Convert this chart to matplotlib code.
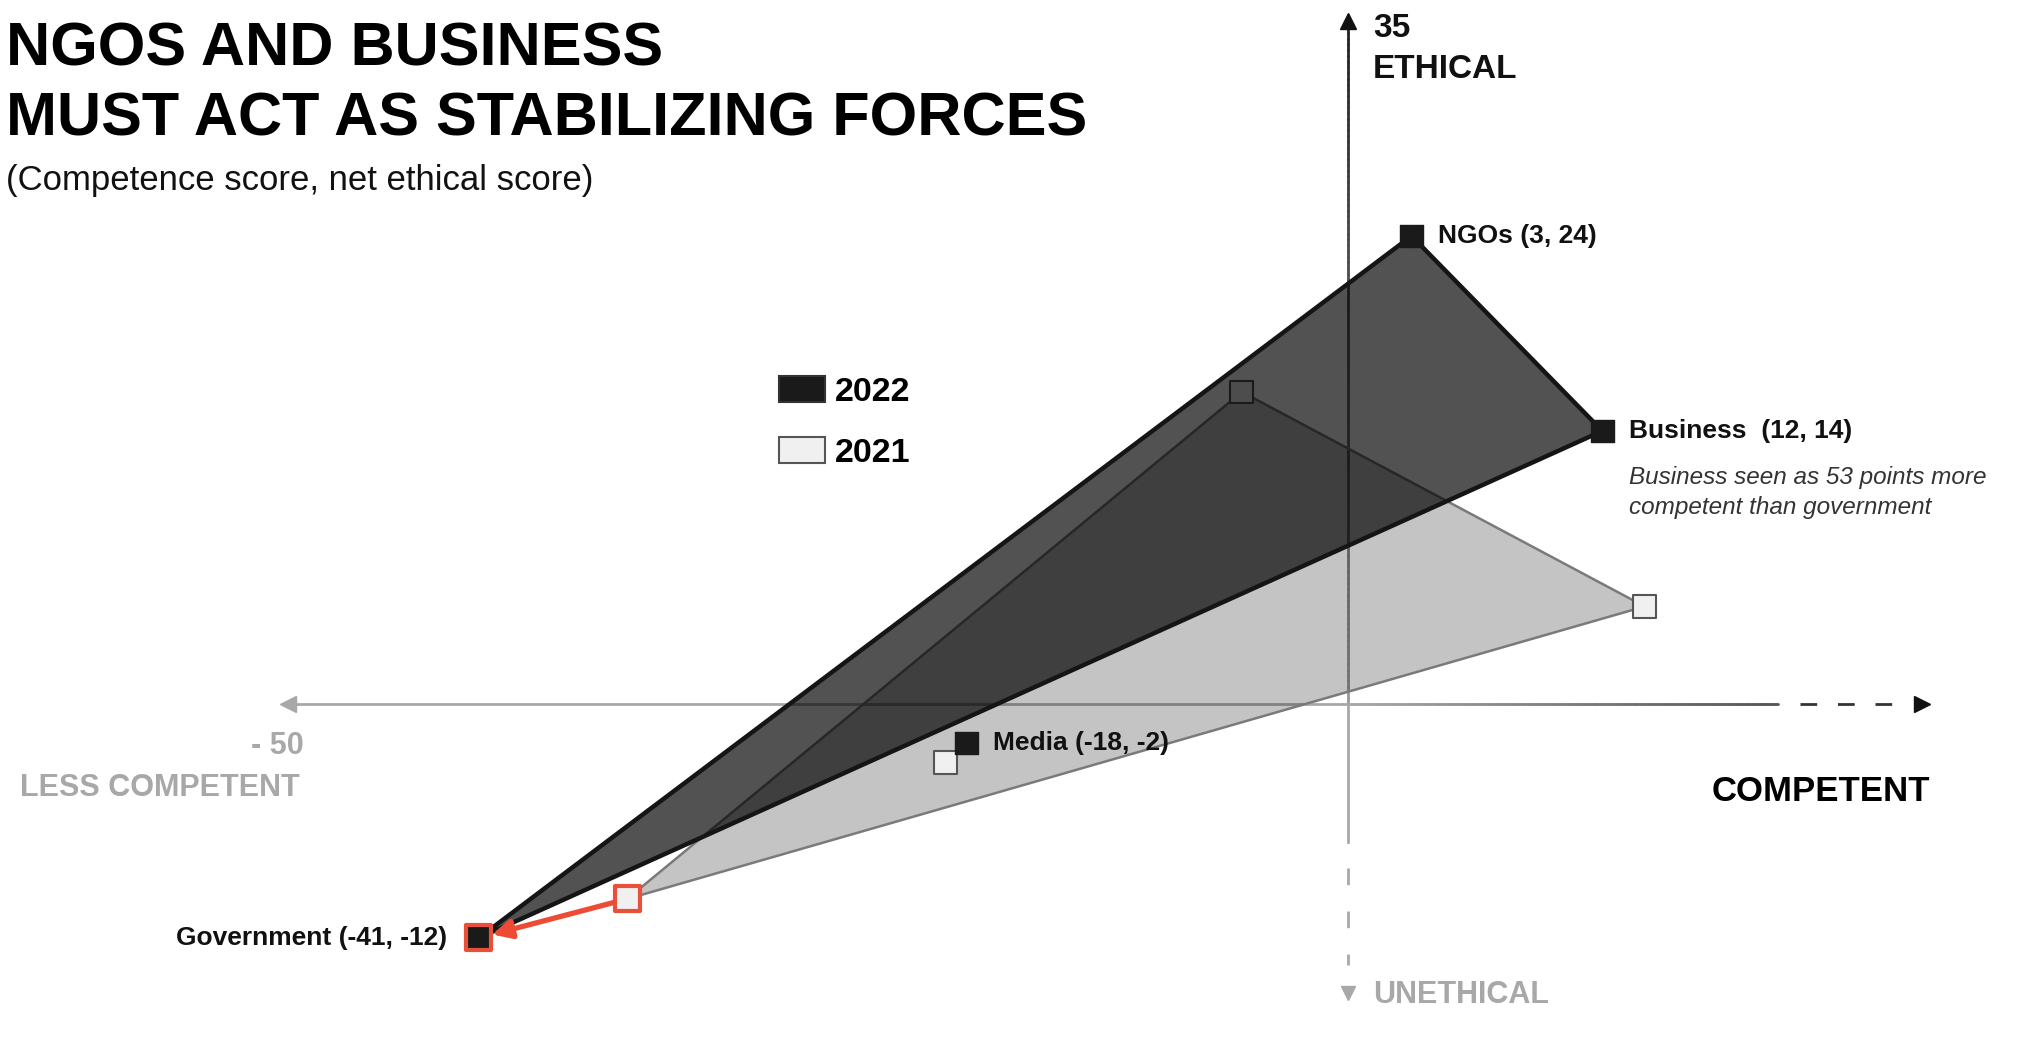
import matplotlib
matplotlib.use("Agg")
import matplotlib.pyplot as plt
from matplotlib.patches import Polygon, Patch
from matplotlib.collections import LineCollection
from matplotlib.colors import LinearSegmentedColormap
import numpy as np

# data: (competence score, net ethical score)
entities = ["Government", "NGOs", "Business", "Media"]
competence_2022 = [-41, 3, 12, -18]
ethical_2022 = [-12, 24, 14, -2]
competence_2021 = [-34, -5, 14, -19]
ethical_2021 = [-10, 16, 5, -3]
polygon_members = ["Government", "NGOs", "Business"]
x_min_label = -50
y_max_label = 35

plt.rcParams['font.family'] = ['Liberation Sans', 'DejaVu Sans']

W, H = 2027, 1039
fig = plt.figure(figsize=(W / 100, H / 100), dpi=100)
ax = fig.add_axes([0, 0, 1, 1])
ax.set_xlim(-63.58, 32.03)
ax.set_ylim(-17.18, 36.10)
ax.axis('off')


def gradient_line(xs, ys, c0, c1, lw, z):
    pts = np.column_stack([xs, ys]).reshape(-1, 1, 2)
    segs = np.concatenate([pts[:-1], pts[1:]], axis=1)
    cmap = LinearSegmentedColormap.from_list('g', [c0, c1])
    lc = LineCollection(segs, colors=cmap(np.linspace(0, 1, len(segs))), linewidths=lw,
                        capstyle='round', zorder=z)
    ax.add_collection(lc)


# axes
n = 120
ax.plot([x_min_label, 0], [0, 0], color='#a8a8a8', lw=2, zorder=1)
gradient_line(np.linspace(0, 20.3, n), np.zeros(n), '#a8a8a8', '#555555', 2, 1)
ax.plot([21.3, 25.8], [0, 0], color='#333333', lw=2, dashes=(6, 7.5), zorder=1)
ax.plot([x_min_label], [0], marker='<', color='#a8a8a8', markersize=12, zorder=1)
ax.plot([27.1], [0], marker='>', color='#111111', markersize=12, zorder=1)

gradient_line(np.zeros(n), np.linspace(0, y_max_label, n), '#9a9a9a', '#222222', 2, 1)
ax.plot([0], [y_max_label], marker='^', color='#111111', markersize=12, zorder=1)
ax.plot([0, 0], [0, -7.1], color='#a8a8a8', lw=2, zorder=1)
ax.plot([0, 0], [-8.4, -13.4], color='#a8a8a8', lw=2, dashes=(6, 9.5), zorder=1)
ax.plot([0], [-14.8], marker='v', color='#a8a8a8', markersize=10, zorder=1)

# polygons
idx = [entities.index(e) for e in polygon_members]
poly21 = Polygon([(competence_2021[i], ethical_2021[i]) for i in idx], closed=True,
                 facecolor=(0, 0, 0, 0.23), edgecolor='#7a7a7a', lw=1.8, joinstyle='round', zorder=2)
poly22 = Polygon([(competence_2022[i], ethical_2022[i]) for i in idx], closed=True,
                 facecolor=(0, 0, 0, 0.68), edgecolor='#151515', lw=3.2, joinstyle='round', zorder=3)
ax.add_patch(poly21)
ax.add_patch(poly22)

# markers
is_gov = [e == 'Government' for e in entities]
ax.scatter(competence_2021, ethical_2021, marker='s',
           s=[18 ** 2 if g else 16.5 ** 2 for g in is_gov], facecolor='#f0f0f0',
           edgecolor=['#e8503a' if g else '#555555' for g in is_gov],
           linewidths=[3 if g else 1.5 for g in is_gov], zorder=2.5)
ax.scatter(competence_2022, ethical_2022, marker='s',
           s=[18 ** 2 if g else 16.5 ** 2 for g in is_gov], facecolor='#1a1a1a',
           edgecolor=['#e8503a' if g else '#1a1a1a' for g in is_gov],
           linewidths=[3 if g else 1 for g in is_gov], zorder=4)

# government shift arrow
g = entities.index('Government')
ax.annotate('', xy=(competence_2022[g], ethical_2022[g]), xytext=(competence_2021[g], ethical_2021[g]),
            arrowprops=dict(arrowstyle='-|>', color='#ee4b35', lw=3.8, mutation_scale=28,
                            shrinkA=10, shrinkB=10), zorder=5)

# labels
for i, name in enumerate(entities):
    sep = '  ' if name == 'Business' else ' '
    label = f"{name}{sep}({competence_2022[i]}, {ethical_2022[i]})"
    if name == 'Government':
        ax.annotate(label, (competence_2022[i], ethical_2022[i]), xytext=(-23, 0), textcoords='offset points',
                    ha='right', va='center', fontsize=19, fontweight='bold', color='#111111')
    else:
        ax.annotate(label, (competence_2022[i], ethical_2022[i]), xytext=(19, 0), textcoords='offset points',
                    ha='left', va='center', fontsize=19, fontweight='bold', color='#111111')

b = entities.index('Business')
ax.annotate("Business seen as 53 points more\ncompetent than government",
            (competence_2022[b], ethical_2022[b]), xytext=(19, -25), textcoords='offset points',
            ha='left', va='top', fontsize=17.5, style='italic', color='#333333', linespacing=1.4)

# axis texts
def ftext(x, y, s, **kw):
    fig.text(x / W, 1 - y / H, s, **kw)

ftext(6, 65, "NGOS AND BUSINESS", fontsize=44, fontweight='bold', va='baseline', color='#000000')
ftext(6, 136, "MUST ACT AS STABILIZING FORCES", fontsize=44, fontweight='bold', va='baseline', color='#000000')
ftext(6, 190, "(Competence score, net ethical score)", fontsize=25, va='baseline', color='#111111')

ftext(1373, 37, str(y_max_label), fontsize=24, fontweight='bold', va='baseline', color='#111111')
ftext(1373, 78, "ETHICAL", fontsize=24, fontweight='bold', va='baseline', color='#111111')
ftext(1373, 1003, "UNETHICAL", fontsize=22, fontweight='bold', va='baseline', color='#a8a8a8')
ftext(304, 754, f"- {abs(x_min_label)}", fontsize=22, fontweight='bold', va='baseline', ha='right', color='#a8a8a8')
ftext(300, 796, "LESS COMPETENT", fontsize=22, fontweight='bold', va='baseline', ha='right', color='#a8a8a8')
ftext(1930, 801, "COMPETENT", fontsize=25, fontweight='bold', va='baseline', ha='right', color='#000000')

# legend
handles = [Patch(facecolor='#1a1a1a', edgecolor='#333333', lw=1.5, label='2022'),
           Patch(facecolor='#f0f0f0', edgecolor='#555555', lw=1.5, label='2021')]
ax.legend(handles=handles, loc='upper left', bbox_to_anchor=(779 / W, 1 - 376 / H),
          bbox_transform=fig.transFigure, frameon=False, borderpad=0, borderaxespad=0,
          handlelength=1.35, handleheight=0.8, handletextpad=0.3, labelspacing=0.85,
          prop={'size': 24.5, 'weight': 'bold'})

fig.savefig('out.png', dpi=100)
